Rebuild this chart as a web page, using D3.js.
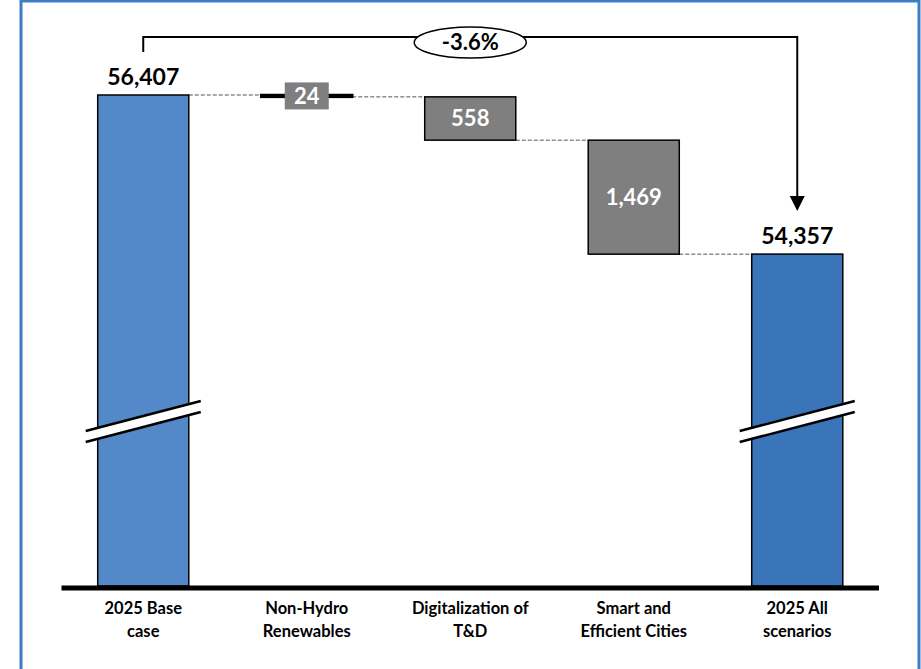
<!DOCTYPE html>
<html>
<head>
<meta charset="utf-8">
<script src="https://cdn.jsdelivr.net/npm/d3@7"></script>
<style>
  body { margin: 0; background: #fff; }
  text { font-family: Lato, "Open Sans", sans-serif; font-weight: bold; }
</style>
</head>
<body>
<div id="chart"></div>
<script>
// chart data
const catLines = [["2025 Base", "case"], ["Non-Hydro", "Renewables"], ["Digitalization of", "T&D"], ["Smart and", "Efficient Cities"], ["2025 All", "scenarios"]];
const values = [56407, -24, -558, -1469, 54357];
const kinds = ["total", "delta", "delta", "delta", "total"];
const changeLabel = "-3.6%";
const breakAt = 52200; // where the broken total bars get their slash

const width = 921, height = 669;
const fmt = d3.format(",");

// running start / end of each bar
let run = 0;
const bars = values.map((v, i) => {
  let b;
  if (kinds[i] === "total") { b = { start: 0, end: v }; run = v; }
  else { b = { start: run, end: run + v }; run += v; }
  return { i, v, kind: kinds[i], lines: catLines[i], ...b };
});

const svg = d3.select("#chart").append("svg")
  .attr("width", width)
  .attr("height", height);

/* blue frame round the picture */
svg.append("rect")
  .attr("x", 21).attr("y", 1)
  .attr("width", 898).attr("height", height + 10)
  .attr("fill", "none")
  .attr("stroke", "#3f7cc6")
  .attr("stroke-width", 3);

const x = d3.scaleBand()
  .domain(d3.range(values.length))
  .range([61.5, 879])
  .paddingInner(0.443)
  .paddingOuter(0.2215);

// axis is broken, so the floor is not zero
const y = d3.scaleLinear()
  .domain([50080, 56407])
  .range([586, 95]);

const barTop = d => d.kind === "total" ? y(d.end) : y(Math.max(d.start, d.end));
const barBottom = d => d.kind === "total" ? y.range()[0] : y(Math.min(d.start, d.end));

// dashed connectors between bars
const conn = svg.append("g")
  .attr("stroke", "#555")
  .attr("stroke-width", 1)
  .attr("stroke-dasharray", "4,2");
bars.slice(0, -1).forEach((d, k) => {
  conn.append("line")
    .attr("x1", x(k) + x.bandwidth())
    .attr("x2", x(k + 1))
    .attr("y1", y(d.end))
    .attr("y2", y(d.end));
});

// bars
svg.append("g").selectAll("rect")
  .data(bars).enter().append("rect")
  .attr("x", d => x(d.i))
  .attr("width", x.bandwidth())
  .attr("y", barTop)
  .attr("height", d => Math.max(barBottom(d) - barTop(d), 1))
  .attr("fill", d => d.kind === "delta" ? "#7f7f7f" : (d.i === 0 ? "#5389c8" : "#3a75ba"))
  .attr("stroke", "#000")
  .attr("stroke-width", d => d.kind === "delta" && barBottom(d) - barTop(d) < 4 ? 2.5 : 1.5);

// break slashes on the total bars
const yb = y(breakAt);
bars.filter(d => d.kind === "total").forEach(d => {
  const x0 = x(d.i) - 12, x1 = x(d.i) + x.bandwidth() + 12;
  const dy = 15, gap = 5.5;
  svg.append("polygon")
    .attr("points", [[x0, yb + dy - gap], [x1, yb - dy - gap], [x1, yb - dy + gap], [x0, yb + dy + gap]].join(" "))
    .attr("fill", "#fff");
  [-gap, gap].forEach(o => {
    svg.append("line")
      .attr("x1", x0).attr("y1", yb + dy + o)
      .attr("x2", x1).attr("y2", yb - dy + o)
      .attr("stroke", "#000").attr("stroke-width", 2.5);
  });
});

// labels inside the delta bars
const cx = i => x(i) + x.bandwidth() / 2;
bars.filter(d => d.kind === "delta").forEach(d => {
  const mid = (barTop(d) + barBottom(d)) / 2;
  const h = barBottom(d) - barTop(d);
  if (h < 30) {
    svg.append("rect")
      .attr("x", cx(d.i) - 22).attr("y", mid - 13.5)
      .attr("width", 44).attr("height", 27)
      .attr("fill", "#7f7f7f");
  }
  svg.append("text")
    .attr("x", cx(d.i)).attr("y", mid)
    .attr("dy", "0.36em")
    .attr("text-anchor", "middle")
    .attr("fill", "#fff")
    .attr("font-size", 22)
    .text(fmt(Math.abs(d.v)));
});

// totals above bars
bars.filter(d => d.kind === "total").forEach(d => {
  svg.append("text")
    .attr("x", cx(d.i)).attr("y", y(d.end) - 10)
    .attr("text-anchor", "middle")
    .attr("fill", "#000")
    .attr("font-size", 23)
    .text(fmt(d.v));
});

// baseline
svg.append("line")
  .attr("x1", x.range()[0]).attr("x2", x.range()[1])
  .attr("y1", y.range()[0] + 2).attr("y2", y.range()[0] + 2)
  .attr("stroke", "#000").attr("stroke-width", 5);

// category labels
const cat = svg.append("g").attr("text-anchor", "middle").attr("font-size", 16.5).attr("fill", "#000");
bars.forEach(d => {
  const t = cat.append("text").attr("x", cx(d.i)).attr("y", y.range()[0] + 28);
  d.lines.forEach((l, j) => t.append("tspan").attr("x", cx(d.i)).attr("dy", j ? 23 : 0).text(l));
});

// bracket with the overall change
const first = bars[0], last = bars[bars.length - 1];
const by = 37;
svg.append("path")
  .attr("d", `M${cx(first.i)},${y(first.end) - 43} V${by} H${cx(last.i)} V${y(last.end) - 57}`)
  .attr("fill", "none").attr("stroke", "#000").attr("stroke-width", 2);
svg.append("path")
  .attr("d", `M${cx(last.i) - 7.5},${y(last.end) - 58} h15 l-7.5,15 z`)
  .attr("fill", "#000");
const mx = cx(2);
svg.append("ellipse")
  .attr("cx", mx).attr("cy", 42.5)
  .attr("rx", 56).attr("ry", 15.5)
  .attr("fill", "#fff").attr("stroke", "#000").attr("stroke-width", 1.5);
svg.append("text")
  .attr("x", mx).attr("y", 42.5).attr("dy", "0.36em")
  .attr("text-anchor", "middle").attr("font-size", 22).attr("fill", "#000")
  .text(changeLabel);
</script>
</body>
</html>
